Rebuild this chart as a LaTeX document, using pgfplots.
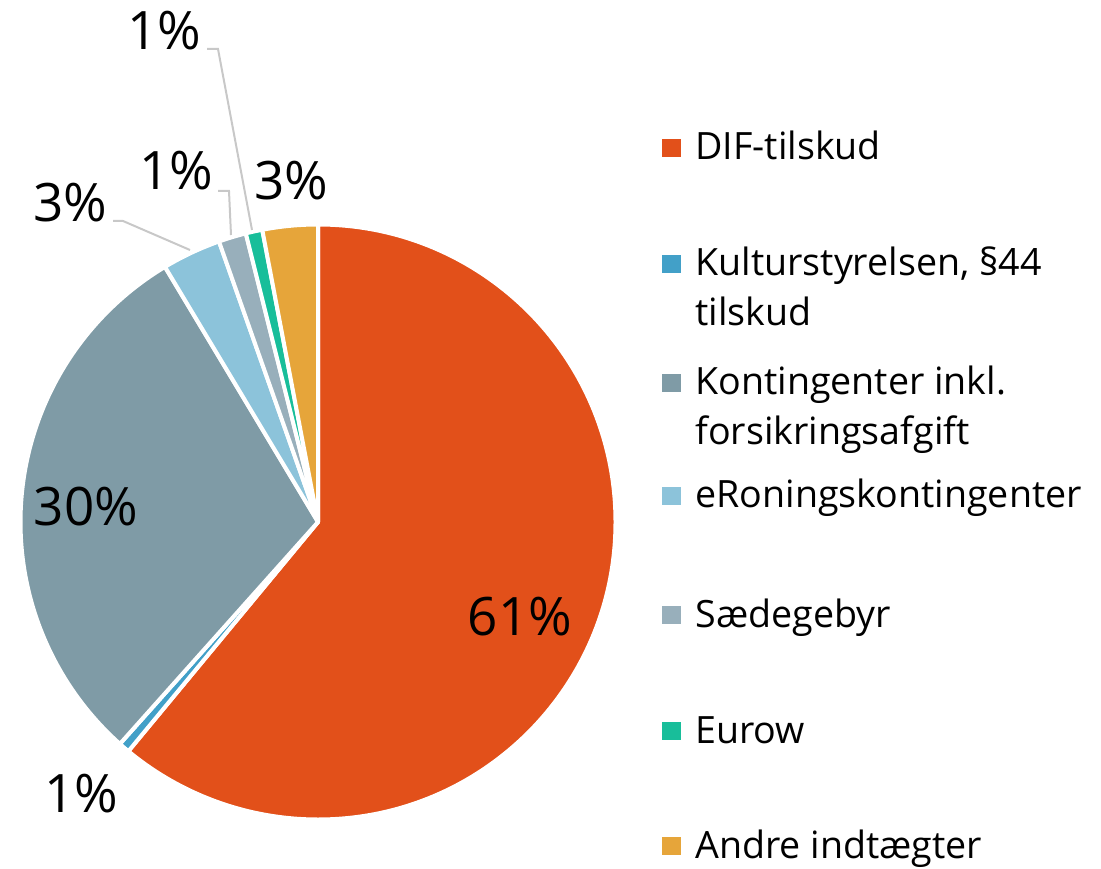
\documentclass[border=0pt]{standalone}
\usepackage{pgfplots}
\pgfplotsset{compat=1.18}
\usepackage{fontspec}
\setmainfont{Open Sans}
\definecolor{cdif}{HTML}{E2501A}
\definecolor{ckult}{HTML}{42A0C8}
\definecolor{ckont}{HTML}{7F9BA6}
\definecolor{ceron}{HTML}{8CC3DA}
\definecolor{csaede}{HTML}{98AFBB}
\definecolor{ceurow}{HTML}{18BE9A}
\definecolor{candre}{HTML}{E6A53A}
\definecolor{cline}{HTML}{C8C8C8}
\begin{document}
\begin{tikzpicture}
% slice values (percent)
\def\vA{61.0}% DIF-tilskud
\def\vB{0.6}%  Kulturstyrelsen
\def\vC{29.8}% Kontingenter
\def\vD{3.2}%  eRoning
\def\vE{1.5}%  Saedegebyr
\def\vF{0.9}%  Eurow
\def\vG{3.0}%  Andre
\pgfmathsetmacro\aA{90-3.6*\vA}
\pgfmathsetmacro\aB{\aA-3.6*\vB}
\pgfmathsetmacro\aC{\aB-3.6*\vC}
\pgfmathsetmacro\aD{\aC-3.6*\vD}
\pgfmathsetmacro\aE{\aD-3.6*\vE}
\pgfmathsetmacro\aF{\aE-3.6*\vF}
\pgfmathsetmacro\aG{\aF-3.6*\vG}
\def\R{148.75pt}
\begin{axis}[x=0.5pt,y=0.5pt,xmin=0,xmax=1101,ymin=0,ymax=868,hide axis,clip=false]
\filldraw[fill=cdif,draw=white,line width=2pt,line join=round] (axis cs:318,346) -- ++(90:\R) arc[start angle=90,end angle=\aA,radius=\R] -- cycle;
\filldraw[fill=ckult,draw=white,line width=2pt,line join=round] (axis cs:318,346) -- ++(\aA:\R) arc[start angle=\aA,end angle=\aB,radius=\R] -- cycle;
\filldraw[fill=ckont,draw=white,line width=2pt,line join=round] (axis cs:318,346) -- ++(\aB:\R) arc[start angle=\aB,end angle=\aC,radius=\R] -- cycle;
\filldraw[fill=ceron,draw=white,line width=2pt,line join=round] (axis cs:318,346) -- ++(\aC:\R) arc[start angle=\aC,end angle=\aD,radius=\R] -- cycle;
\filldraw[fill=csaede,draw=white,line width=2pt,line join=round] (axis cs:318,346) -- ++(\aD:\R) arc[start angle=\aD,end angle=\aE,radius=\R] -- cycle;
\filldraw[fill=ceurow,draw=white,line width=2pt,line join=round] (axis cs:318,346) -- ++(\aE:\R) arc[start angle=\aE,end angle=\aF,radius=\R] -- cycle;
\filldraw[fill=candre,draw=white,line width=2pt,line join=round] (axis cs:318,346) -- ++(\aF:\R) arc[start angle=\aF,end angle=\aG,radius=\R] -- cycle;
% leader lines
\draw[cline,line width=1pt] (axis cs:113,647) -- (axis cs:123,647) -- (axis cs:190,618);
\draw[cline,line width=1pt] (axis cs:218,677) -- (axis cs:229,677) -- (axis cs:231,633);
\draw[cline,line width=1pt] (axis cs:207,819) -- (axis cs:218,819) -- (axis cs:252,638);
% data labels
\begin{scope}[every node/.style={anchor=base,font=\fontsize{26.5}{30}\selectfont,inner sep=0pt}]
\node at (axis cs:520,233) {61\%};
\node at (axis cs:81,56) {1\%};
\node at (axis cs:86,343) {30\%};
\node at (axis cs:70,646) {3\%};
\node at (axis cs:176,678) {1\%};
\node at (axis cs:164,818) {1\%};
\node at (axis cs:291,668) {3\%};
\end{scope}
% legend
\begin{scope}[every node/.style={anchor=base west,font=\fontsize{18.8}{25}\selectfont,inner sep=0pt}]
\fill[cdif] (axis cs:662,711) rectangle (axis cs:681,729);
\node at (axis cs:695,708) {DIF-tilskud};
\fill[ckult] (axis cs:662,595) rectangle (axis cs:681,613);
\node at (axis cs:695,592) {Kulturstyrelsen, §44};
\node at (axis cs:695,542) {tilskud};
\fill[ckont] (axis cs:662,476) rectangle (axis cs:681,494);
\node at (axis cs:695,473) {Kontingenter inkl.};
\node at (axis cs:695,423) {forsikringsafgift};
\fill[ceron] (axis cs:662,363) rectangle (axis cs:681,381);
\node at (axis cs:695,360) {eRoningskontingenter};
\fill[csaede] (axis cs:662,244) rectangle (axis cs:681,262);
\node at (axis cs:695,241) {Sædegebyr};
\fill[ceurow] (axis cs:662,128) rectangle (axis cs:681,146);
\node at (axis cs:695,125) {Eurow};
\fill[candre] (axis cs:662,13) rectangle (axis cs:681,31);
\node at (axis cs:695,10) {Andre indtægter};
\end{scope}
\end{axis}
\pgfresetboundingbox
\path (0,0) rectangle (550.5pt,434pt);
\end{tikzpicture}
\end{document}
